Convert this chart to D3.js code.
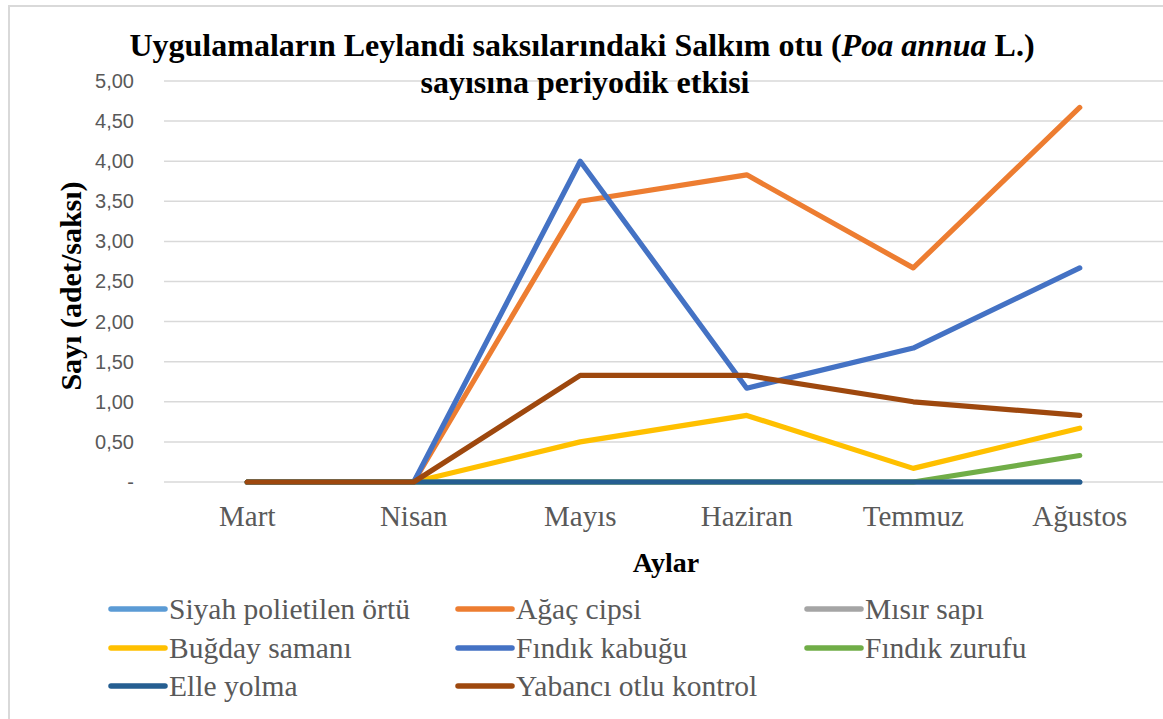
<!DOCTYPE html>
<html>
<head>
<meta charset="utf-8">
<script src="https://cdn.jsdelivr.net/npm/d3@7"></script>
<style>
  body { margin: 0; background: #fff; }
  svg { display: block; }
</style>
</head>
<body>
<svg id="chart" width="1163" height="719"></svg>
<script>
// months on the x axis
const months = ["Mart", "Nisan", "Mayıs", "Haziran", "Temmuz", "Ağustos"];

// treatments, in the order Excel draws them
const seriesNames = ["Siyah polietilen örtü", "Ağaç cipsi", "Mısır sapı", "Buğday samanı",
    "Fındık kabuğu", "Fındık zurufu", "Elle yolma", "Yabancı otlu kontrol"];

// values (adet/saksı)
const siyahPolietilen = [0, 0, 0, 0, 0, 0];
const agacCipsi = [0, 0, 3.50, 3.83, 2.67, 4.67];
const misirSapi = [0, 0, 0, 0, 0, 0];
const bugdaySamani = [0, 0, 0.50, 0.83, 0.17, 0.67];
const findikKabugu = [0, 0, 4.00, 1.17, 1.67, 2.67];
const findikZurufu = [0, 0, 0, 0, 0, 0.33];
const elleYolma = [0, 0, 0, 0, 0, 0];
const yabanciOtlu = [0, 0, 1.33, 1.33, 1.00, 0.83];

const yTicks = [0, 0.5, 1, 1.5, 2, 2.5, 3, 3.5, 4, 4.5, 5];
const yTickLabels = ["-", "0,50", "1,00", "1,50", "2,00", "2,50", "3,00", "3,50", "4,00", "4,50", "5,00"];

const seriesValues = [siyahPolietilen, agacCipsi, misirSapi, bugdaySamani,
    findikKabugu, findikZurufu, elleYolma, yabanciOtlu];
const colors = ["#5B9BD5", "#ED7D31", "#A5A5A5", "#FFC000", "#4472C4", "#70AD47", "#255E91", "#9E480E"];

const series = seriesNames.map((name, i) => ({ name: name, values: seriesValues[i], color: colors[i] }));

const svg = d3.select("#chart");
const serif = "'Liberation Serif', 'Times New Roman', serif";
const textGray = "#595959";

// chart frame
svg.append("rect")
    .attr("x", 9).attr("y", 6)
    .attr("width", 1200).attr("height", 760)
    .attr("fill", "#fff")
    .attr("stroke", "#d9d9d9")
    .attr("stroke-width", 2);

const margin = { top: 81, left: 164, right: 0, bottom: 237 };
const width = 1163 - margin.left - margin.right;
const height = 719 - margin.top - margin.bottom;

const x = d3.scaleBand().domain(months).range([0, width]);
const y = d3.scaleLinear().domain([0, 5]).range([height, 0]);

const g = svg.append("g")
    .attr("transform", "translate(" + margin.left + "," + margin.top + ")");

// gridlines
g.append("g")
    .selectAll("line")
    .data(yTicks)
    .enter().append("line")
    .attr("x1", 0).attr("x2", width)
    .attr("y1", d => y(d)).attr("y2", d => y(d))
    .attr("stroke", "#d9d9d9")
    .attr("stroke-width", 1.5);

// y axis labels
const yAxis = g.append("g")
    .attr("transform", "translate(-27,0)")
    .call(d3.axisLeft(y).tickValues(yTicks).tickSize(0).tickFormat((d, i) => yTickLabels[i]));
yAxis.select(".domain").remove();
yAxis.selectAll("text")
    .attr("fill", textGray)
    .style("font-family", "'Liberation Sans', Arial, sans-serif")
    .style("font-size", "20px");

// x axis labels
const xAxis = g.append("g")
    .attr("transform", "translate(0," + height + ")")
    .call(d3.axisBottom(x).tickSize(0).tickPadding(23));
xAxis.select(".domain").remove();
xAxis.selectAll("text")
    .attr("fill", textGray)
    .style("font-family", serif)
    .style("font-size", "29px");

// lines
const line = d3.line()
    .x((d, i) => x(months[i]) + x.bandwidth() / 2)
    .y(d => y(d));

g.selectAll(".series")
    .data(series)
    .enter().append("path")
    .attr("class", "series")
    .attr("d", d => line(d.values))
    .attr("fill", "none")
    .attr("stroke", d => d.color)
    .attr("stroke-width", 5.2)
    .attr("stroke-linejoin", "round")
    .attr("stroke-linecap", "round");

// title
const title = svg.append("text")
    .attr("text-anchor", "middle")
    .style("font-family", serif)
    .style("font-weight", "bold")
    .style("font-size", "32px")
    .attr("fill", "#000");
const t1 = title.append("tspan").attr("x", 582).attr("y", 56);
t1.append("tspan").text("Uygulamaların Leylandi saksılarındaki Salkım otu (");
t1.append("tspan").style("font-style", "italic").text("Poa annua");
t1.append("tspan").text(" L.)");
title.append("tspan").attr("x", 585).attr("y", 93).text("sayısına periyodik etkisi");

// axis titles
svg.append("text")
    .attr("transform", "translate(81,286) rotate(-90)")
    .attr("text-anchor", "middle")
    .style("font-family", serif)
    .style("font-weight", "bold")
    .style("font-size", "30px")
    .text("Sayı (adet/saksı)");

svg.append("text")
    .attr("x", 666).attr("y", 572)
    .attr("text-anchor", "middle")
    .style("font-family", serif)
    .style("font-weight", "bold")
    .style("font-size", "28px")
    .text("Aylar");

// legend, three columns
const legendCols = [111, 458, 807];
const legendRows = [609, 648, 686];
const legend = svg.append("g")
    .selectAll("g")
    .data(series)
    .enter().append("g")
    .attr("transform", (d, i) => "translate(" + legendCols[i % 3] + "," + legendRows[Math.floor(i / 3)] + ")");
legend.append("line")
    .attr("x1", 0).attr("x2", 54)
    .attr("stroke", d => d.color)
    .attr("stroke-width", 5.5)
    .attr("stroke-linecap", "round");
legend.append("text")
    .attr("x", 58)
    .attr("dy", "0.33em")
    .attr("fill", textGray)
    .style("font-family", serif)
    .style("font-size", "29.5px")
    .text(d => d.name);
</script>
</body>
</html>
